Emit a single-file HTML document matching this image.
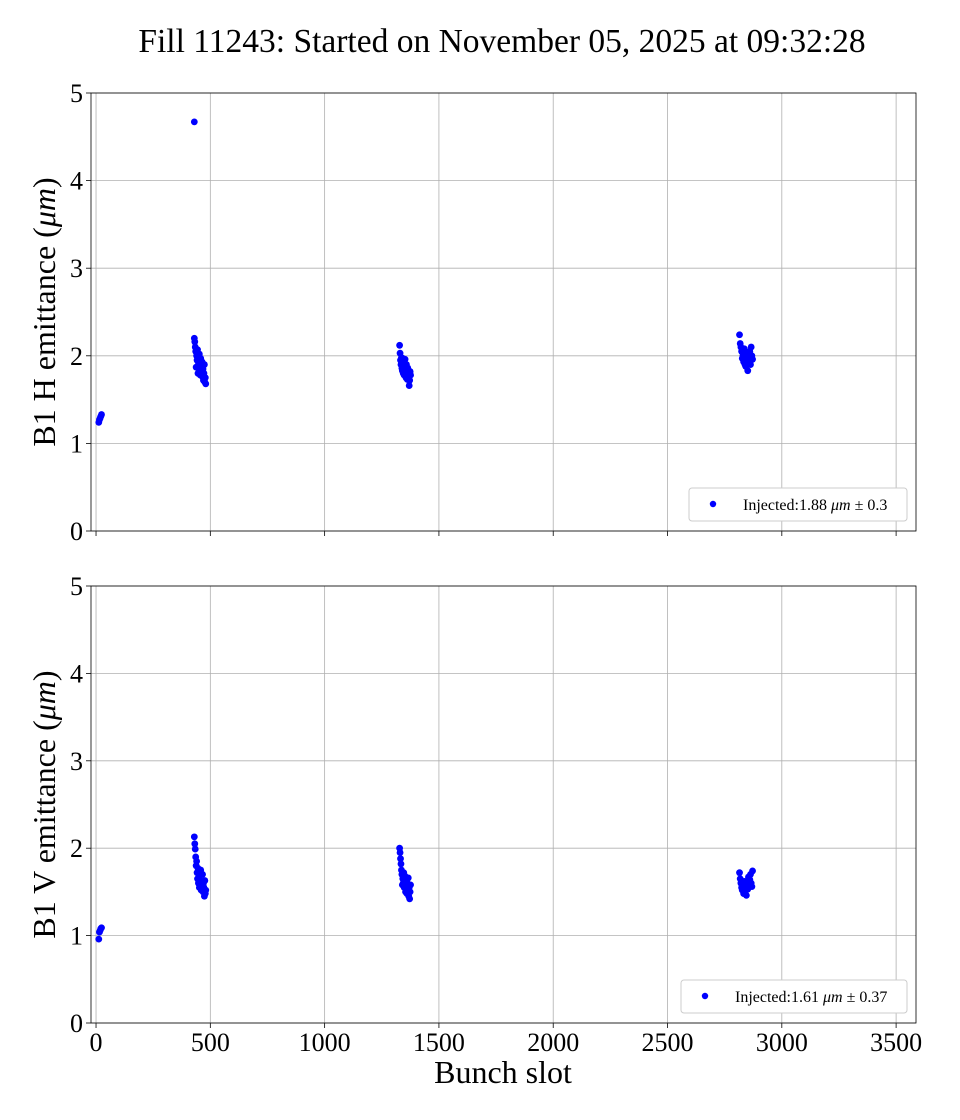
<!DOCTYPE html>
<html><head><meta charset="utf-8"><style>
body{margin:0;background:#fff}
svg{display:block;font-family:"Liberation Serif",serif}
</style></head><body>
<svg id="chart" width="960" height="1120">
<text x="502" y="52" font-size="33.5" text-anchor="middle">Fill 11243: Started on November 05, 2025 at 09:32:28</text>
</svg>
<script>
const xTicks=[0,500,1000,1500,2000,2500,3000,3500];
const yTicks=[0,1,2,3,4,5];
const hSlots=[12,15,18,21,24,430,430,432,434,436,438,440,442,444,446,448,450,452,454,456,458,460,462,464,466,468,470,472,474,476,478,480,
1328,1330,1332,1334,1336,1338,1340,1342,1344,1346,1348,1350,1352,1354,1356,1358,1360,1362,1364,1366,1368,1370,1372,1374,1376,
2815,2818,2821,2824,2827,2830,2833,2836,2839,2842,2845,2848,2851,2854,2857,2860,2863,2866,2869,2872];
const hVals=[1.24,1.27,1.29,1.31,1.33,4.67,2.2,2.16,2.1,2.05,1.87,2.0,1.95,2.07,1.8,1.92,1.9,2.02,1.85,1.78,1.97,1.88,1.82,1.93,1.76,1.85,1.72,1.8,1.9,1.7,1.75,1.68,
2.12,2.03,1.95,1.9,1.98,1.86,1.83,1.97,1.8,1.92,1.78,1.88,1.96,1.84,1.75,1.9,1.82,1.73,1.86,1.8,1.76,1.66,1.72,1.82,1.78,
2.24,2.14,2.1,2.05,1.97,2.0,1.93,2.08,1.9,1.88,2.02,1.95,1.83,1.98,1.92,2.05,1.9,2.1,2.0,1.96];
const vSlots=[12,15,18,21,24,430,432,434,436,438,440,442,444,446,448,450,452,454,456,458,460,462,464,466,468,470,472,474,476,478,480,
1328,1330,1332,1334,1336,1338,1340,1342,1344,1346,1348,1350,1352,1354,1356,1358,1360,1362,1364,1366,1368,1370,1372,1374,1376,
2815,2818,2821,2824,2827,2830,2833,2836,2839,2842,2845,2848,2851,2854,2857,2860,2863,2866,2869,2872];
const vVals=[0.96,1.04,1.06,1.08,1.09,2.13,2.05,1.99,1.9,1.8,1.85,1.72,1.65,1.77,1.6,1.7,1.55,1.68,1.58,1.75,1.52,1.62,1.57,1.7,1.5,1.6,1.55,1.45,1.63,1.48,1.52,
2.0,1.95,1.88,1.82,1.75,1.7,1.58,1.65,1.6,1.72,1.55,1.62,1.68,1.5,1.57,1.64,1.48,1.6,1.53,1.66,1.45,1.55,1.42,1.5,1.58,
1.72,1.65,1.6,1.55,1.52,1.58,1.48,1.62,1.5,1.55,1.46,1.6,1.53,1.67,1.58,1.64,1.7,1.6,1.56,1.74];
const NS='http://www.w3.org/2000/svg';
const svg=document.getElementById('chart');
function el(t,a,p){const e=document.createElementNS(NS,t);for(const k in a)e.setAttribute(k,a[k]);(p||svg).appendChild(e);return e;}
const X0=91,X1=916,XMIN=-22,XMAX=3587;
function xs(v){return X0+(v-XMIN)/(XMAX-XMIN)*(X1-X0);}
function panel(top,bot,slots,vals,label,legText,legX,showX,nm){
  const g=el('g',{});
  
  
  const ys=v=>bot-v/5*(bot-top);
  xTicks.forEach(t=>{
    el('line',{x1:xs(t),x2:xs(t),y1:top,y2:bot,stroke:'#b0b0b0','stroke-width':0.8},g);
    el('line',{x1:xs(t),x2:xs(t),y1:bot,y2:bot+5,stroke:'#000','stroke-width':0.8},g);
    if(showX){const tx=el('text',{x:xs(t),y:bot+28,'font-size':26,'text-anchor':'middle'},g);tx.textContent=t;
      }
  });
  yTicks.forEach(t=>{
    el('line',{x1:X0,x2:X1,y1:ys(t),y2:ys(t),stroke:'#b0b0b0','stroke-width':0.8},g);
    el('line',{x1:X0-5,x2:X0,y1:ys(t),y2:ys(t),stroke:'#000','stroke-width':0.8},g);
    const tx=el('text',{x:X0-8,y:ys(t)+9,'font-size':26,'text-anchor':'end'},g);tx.textContent=t;
    
  });
  el('rect',{x:X0,y:top,width:X1-X0,height:bot-top,fill:'none',stroke:'#000','stroke-width':0.8},g);
  slots.forEach((s,i)=>{
    const c=el('circle',{cx:xs(s),cy:ys(vals[i]),r:3.4,fill:'#0000ff'},g);
    
    
  });
  const yl=el('text',{x:0,y:0,'font-size':32,'text-anchor':'middle',transform:`translate(55,${(top+bot)/2}) rotate(-90)`},g);
  yl.innerHTML=label;
  
  const lg=el('g',{},g);
  
  el('rect',{x:legX,y:bot-43,width:907-legX,height:33,rx:3,fill:'#fff',stroke:'#ccc'},lg);
  el('circle',{cx:legX+24,cy:bot-27,r:3.2,fill:'#0000ff'},lg);
  const lt=el('text',{x:legX+54,y:bot-21,'font-size':16},lg);lt.innerHTML=legText;
}
panel(93,531,hSlots,hVals,'B1 H emittance (<tspan font-style="italic">μm</tspan>)','Injected:1.88 <tspan font-style="italic">μm</tspan> ± 0.3',689,false,'h-emittance');
panel(586,1023,vSlots,vVals,'B1 V emittance (<tspan font-style="italic">μm</tspan>)','Injected:1.61 <tspan font-style="italic">μm</tspan> ± 0.37',681,true,'v-emittance');
const xl=el('text',{x:503,y:1083,'font-size':32,'text-anchor':'middle'});xl.textContent='Bunch slot';


</script>
</body></html>
